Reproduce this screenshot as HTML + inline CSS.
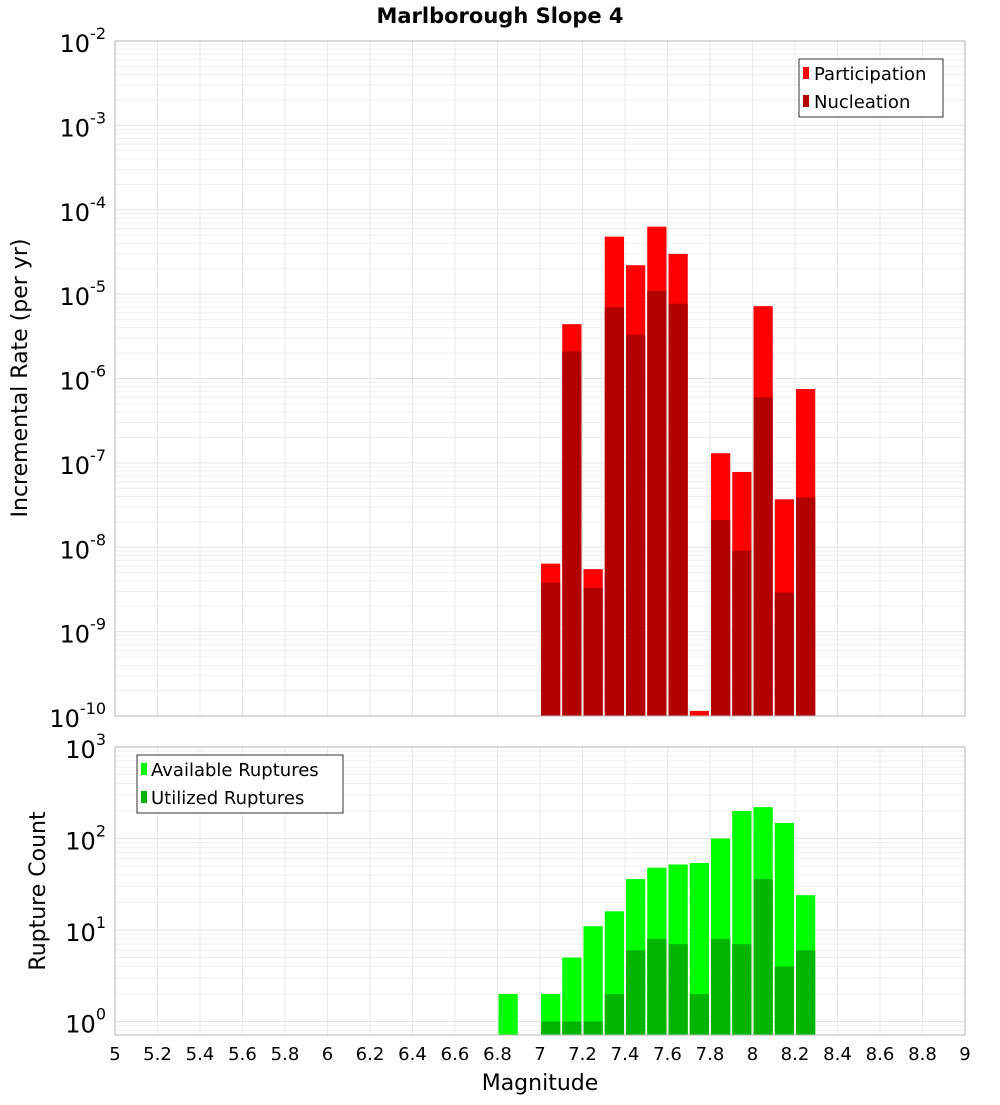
<!DOCTYPE html>
<html><head><meta charset="utf-8"><style>
body{margin:0;background:#fff;font-family:"Liberation Sans","DejaVu Sans",sans-serif}
svg text{font-family:"DejaVu Sans","Liberation Sans",sans-serif}
</style></head><body>
<svg id="chart" width="1000" height="1100" xmlns="http://www.w3.org/2000/svg">
<rect width="1000" height="1100" fill="#fff"/>
<text x="500" y="23" text-anchor="middle" font-size="21" font-weight="bold">Marlborough Slope 4</text>
<g id="top"></g><g id="bot"></g><g id="xax"></g>
</svg>
<script>
const binCenters=[7.05,7.15,7.25,7.35,7.45,7.55,7.65,7.75,7.85,7.95,8.05,8.15,8.25];
const participation=[6.4e-9,4.4e-6,5.5e-9,4.8e-5,2.2e-5,6.3e-5,3.0e-5,1.15e-10,1.3e-7,7.8e-8,7.2e-6,3.7e-8,7.5e-7];
const nucleation=[3.8e-9,2.1e-6,3.3e-9,7.0e-6,3.3e-6,1.09e-5,7.7e-6,5e-11,2.1e-8,9.1e-9,6.0e-7,2.9e-9,3.9e-8];
const countCenters=[6.85,7.05,7.15,7.25,7.35,7.45,7.55,7.65,7.75,7.85,7.95,8.05,8.15,8.25];
const available=[2,2,5,11,16,36,48,52,54,100,200,220,148,24];
const utilized=[0,1,1,1,2,6,8,7,2,8,7,36,4,6];
const xTicks=[5,5.2,5.4,5.6,5.8,6,6.2,6.4,6.6,6.8,7,7.2,7.4,7.6,7.8,8,8.2,8.4,8.6,8.8,9];
const topExps=[-10,-9,-8,-7,-6,-5,-4,-3,-2];
const botExps=[0,1,2,3];

const NS="http://www.w3.org/2000/svg";
const X0=115,X1=965;
const x=v=>X0+(v-5)/4*(X1-X0);
const T0=41,T1=716;
const yTop=v=>T0+(-2-Math.log10(v))/8*(T1-T0);
const B0=747,B1=1035,BDEC=91.5;
const yBot=v=>B0+(3-Math.log10(v))*BDEC;
function mk(p,tag,a){const e=document.createElementNS(NS,tag);for(const k in a)e.setAttribute(k,a[k]);p.appendChild(e);return e;}

function panel(g,y0,y1,yf,lo,hi,name){
  // minor/major horizontal grid
  for(let e=lo;e<hi;e++)for(let m=1;m<10;m++){const yy=yf(m*Math.pow(10,e));if(yy<y0||yy>y1)continue;
    const l=mk(g,'line',{x1:X0,x2:X1,y1:yy,y2:yy,stroke:m==1?'#e4e4e4':'#efefef','stroke-width':1});
    
    }
  xTicks.forEach(t=>{const l=mk(g,'line',{x1:x(t),x2:x(t),y1:y0,y2:y1,stroke:'#e8e8e8'});
    
    });
}
function frame(g,y0,y1,name){const r=mk(g,'rect',{x:X0,y:y0,width:X1-X0,height:y1-y0,fill:'none',stroke:'#b4b4b4'});
  
  }
function ylab(g,exps,yf,prefix){exps.forEach(e=>{const t=mk(g,'text',{x:106,y:yf(Math.pow(10,e))+11,'text-anchor':'end','font-size':24});
  
  
  t.textContent='10';const s=mk(t,'tspan',{dy:-13,'font-size':16});s.textContent=String(e);});}
function bars(g,centers,vals,yf,ybot,fill,name){centers.forEach((c,i)=>{if(vals[i]<=0)return;
  let yy=Math.max(yf(vals[i]),0);if(yy>=ybot)return;
  const r=mk(g,'rect',{x:x(c-0.05)+1,y:yy,width:x(c+0.05)-x(c-0.05)-2,height:ybot-yy,fill:fill});
  
  });}

const gt=document.getElementById('top');
panel(gt,T0,T1,yTop,-10,-2,'top');
bars(gt,binCenters,participation,yTop,T1,'#ff0000','participation-bar');
bars(gt,binCenters,nucleation,yTop,T1,'#b20000','nucleation-bar');
frame(gt,T0,T1,'top-plot-frame');
ylab(gt,topExps,yTop,'rate');
let t=mk(gt,'text',{x:27,y:378,'text-anchor':'middle','font-size':22,transform:'rotate(-90 27 378)'});t.textContent='Incremental Rate (per yr)';


let lg=mk(gt,'g',{});


mk(lg,'rect',{x:799,y:59,width:144,height:58,fill:'#fff',stroke:'#333'});
mk(lg,'rect',{x:803,y:67,width:6,height:12,fill:'#ff0000'});
mk(lg,'rect',{x:803,y:95,width:6,height:12,fill:'#b20000'});
let l1=mk(lg,'text',{x:814,y:80,'font-size':18});l1.textContent='Participation';


let l2=mk(lg,'text',{x:814,y:108,'font-size':18});l2.textContent='Nucleation';



const gb=document.getElementById('bot');
panel(gb,B0,B1,yBot,-1,3,'bot');
bars(gb,countCenters,available,yBot,B1,'#00ff00','available-bar');
bars(gb,countCenters,utilized,yBot,B1,'#00b400','utilized-bar');
frame(gb,B0,B1,'bottom-plot-frame');
ylab(gb,botExps,yBot,'count');
t=mk(gb,'text',{x:45,y:891,'text-anchor':'middle','font-size':22,transform:'rotate(-90 45 891)'});t.textContent='Rupture Count';


lg=mk(gb,'g',{});


mk(lg,'rect',{x:137,y:755,width:206,height:58,fill:'#fff',stroke:'#333'});
mk(lg,'rect',{x:141,y:763,width:6,height:12,fill:'#00ff00'});
mk(lg,'rect',{x:141,y:791,width:6,height:12,fill:'#00b400'});
l1=mk(lg,'text',{x:151,y:776,'font-size':18});l1.textContent='Available Ruptures';


l2=mk(lg,'text',{x:151,y:804,'font-size':18});l2.textContent='Utilized Ruptures';



const gx=document.getElementById('xax');
xTicks.forEach(v=>{const tt=mk(gx,'text',{x:x(v),y:1060,'text-anchor':'middle','font-size':18});
  
  
  tt.textContent=String(v);});
t=mk(gx,'text',{x:540,y:1090,'text-anchor':'middle','font-size':22});t.textContent='Magnitude';


</script>
</body></html>
